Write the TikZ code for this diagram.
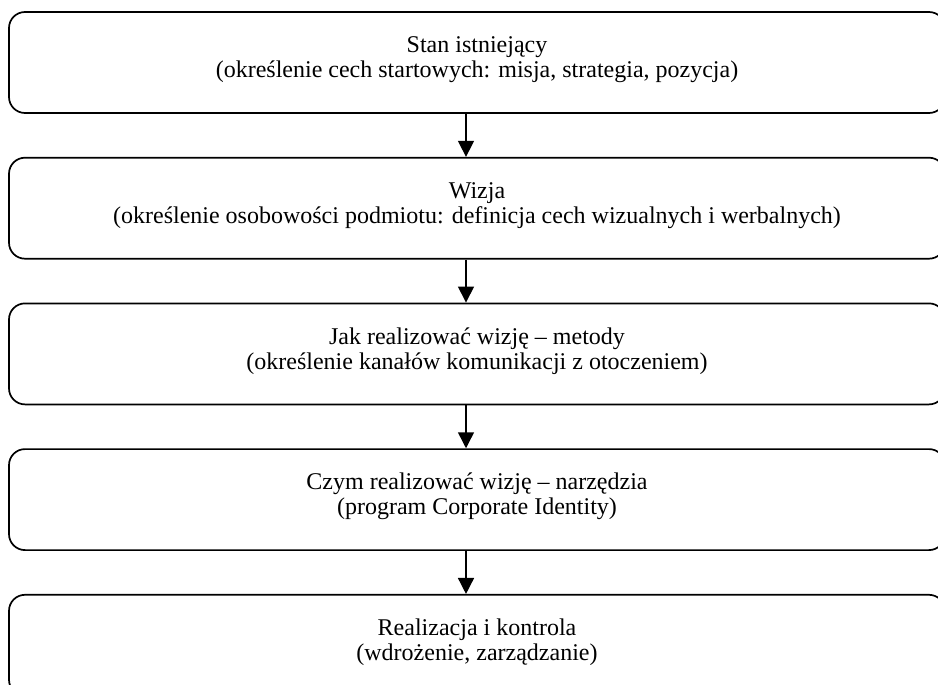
\documentclass[tikz,border=0pt]{standalone}
\usepackage{fontspec}
\setmainfont{Liberation Serif}
\usetikzlibrary{positioning}
\usetikzlibrary{arrows.meta}
\newcommand{\widthstage}{936pt}
\newcommand{\heightstage}{101pt}
\newcommand{\gapstage}{43pt}
\newcommand{\lift}{\\[-14pt]}
\tikzset{
    stage/.style={draw, rounded corners=16pt, line width=1.7pt, align=center,
        minimum width=\widthstage, minimum height=\heightstage, inner sep=0pt,
        font=\fontsize{24}{25}\selectfont},
    flow/.style={line width=1.5pt, -{Triangle[width=16pt, length=16pt]}},
}
\begin{document}
\begin{tikzpicture}[x=1pt, y=1pt]
    \useasboundingbox (0,0) rectangle (938,-685);
    \node[stage] (stan) at (477,-62.5) {Stan istniejący\\(określenie cech startowych: misja, strategia, pozycja)\lift};
    \node[stage, below=\gapstage of stan] (wizja) {Wizja\\(określenie osobowości podmiotu: definicja cech wizualnych i werbalnych)\lift};
    \node[stage, below=\gapstage of wizja] (metody) {Jak realizować wizję – metody\\(określenie kanałów komunikacji z otoczeniem)\lift};
    \node[stage, below=\gapstage of metody] (narzedzia) {Czym realizować wizję – narzędzia\\(program Corporate Identity)\lift};
    \node[stage, below=\gapstage of narzedzia] (realizacja) {Realizacja i kontrola\\(wdrożenie, zarządzanie)\lift};
    % arrows sit a bit left of the box centre
    \coordinate (axis) at (466,0);
    \foreach \from/\to in {stan/wizja, wizja/metody, metody/narzedzia, narzedzia/realizacja}
        \draw[flow] (\from.south -| axis) -- (\to.north -| axis);
\end{tikzpicture}
\end{document}
